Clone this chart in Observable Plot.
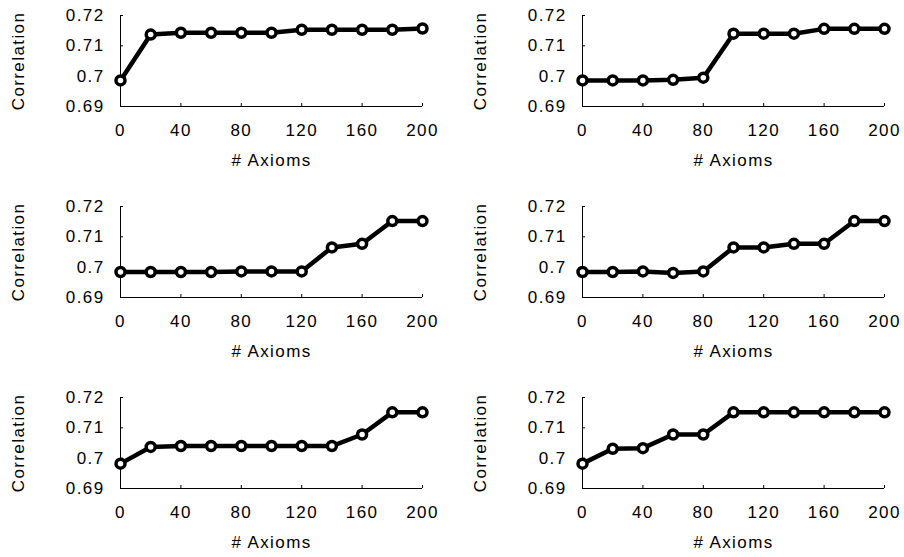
<!DOCTYPE html>
<html>
<head>
<meta charset="utf-8">
<script src="https://cdn.jsdelivr.net/npm/d3@7"></script>
<script src="https://cdn.jsdelivr.net/npm/@observablehq/plot@0.6"></script>
<style>
  html, body { margin: 0; padding: 0; background: #fff; }
  #root { position: relative; width: 904px; height: 557px; overflow: hidden; background: #fff; }
  .panel { position: absolute; }
  .panel svg { overflow: visible; }
  .panel svg text { letter-spacing: 1.4px; }
</style>
</head>
<body>
<div id="root"></div>
<script>
const axioms = [0, 20, 40, 60, 80, 100, 120, 140, 160, 180, 200];
const series1 = [0.6986, 0.7137, 0.7143, 0.7143, 0.7143, 0.7143, 0.7153, 0.7153, 0.7153, 0.7153, 0.7157];
const series2 = [0.6986, 0.6986, 0.6986, 0.6988, 0.6995, 0.7140, 0.7140, 0.7140, 0.7156, 0.7156, 0.7156];
const series3 = [0.6984, 0.6984, 0.6984, 0.6984, 0.6986, 0.6986, 0.6986, 0.7065, 0.7077, 0.7152, 0.7152];
const series4 = [0.6984, 0.6984, 0.6986, 0.6981, 0.6986, 0.7065, 0.7065, 0.7077, 0.7077, 0.7152, 0.7152];
const series5 = [0.6982, 0.7037, 0.7040, 0.7040, 0.7040, 0.7040, 0.7040, 0.7040, 0.7078, 0.7151, 0.7151];
const series6 = [0.6982, 0.7031, 0.7033, 0.7078, 0.7078, 0.7151, 0.7151, 0.7151, 0.7151, 0.7151, 0.7151];
const allSeries = [series1, series2, series3, series4, series5, series6];
const yTicks = [0.69, 0.70, 0.71, 0.72];
const xTicks = [0, 40, 80, 120, 160, 200];
const xLabel = "# Axioms";
const yLabel = "Correlation";

const font = "'Liberation Sans', Arial, sans-serif";
const fmtY = d => String(+d.toFixed(2));

function panel(values, isLeft) {
  const data = axioms.map((x, i) => ({x, y: values[i]}));
  return Plot.plot({
    width: 452,
    height: 175,
    marginLeft: isLeft ? 120 : 130,
    marginRight: isLeft ? 30 : 20,
    marginTop: 15,
    marginBottom: 69,
    style: {fontFamily: font, fontSize: "17px", color: "black", background: "white", overflow: "visible"},
    x: {domain: [0, 200]},
    y: {domain: [0.69, 0.72]},
    marks: [
      Plot.ruleX([0], {stroke: "black", strokeWidth: 1}),
      Plot.ruleY([0.69], {stroke: "black", strokeWidth: 1}),
      Plot.axisY(yTicks, {tickSize: 0, tickPadding: 16, tickFormat: fmtY, label: null, fontSize: 17, fill: "black"}),
      Plot.axisY(yTicks, {tickSize: 3, dx: 3, fill: "none", label: null, stroke: "black"}),
      Plot.axisX(xTicks, {tickSize: 0, tickPadding: 17, label: null, fontSize: 17, fill: "black"}),
      Plot.axisX(xTicks, {tickSize: 3, dy: -3, fill: "none", label: null, stroke: "black"}),
      Plot.line(data, {x: "x", y: "y", stroke: "black", strokeWidth: 4.5}),
      Plot.dot(data, {x: "x", y: "y", r: 4.5, fill: "white", stroke: "black", strokeWidth: 3.5}),
      Plot.text([xLabel], {frameAnchor: "bottom", lineAnchor: "middle", dy: 54, fontSize: 17, fill: "black"}),
      Plot.text([yLabel], {frameAnchor: "left", textAnchor: "middle", lineAnchor: "middle", dx: -102, rotate: -90, fontSize: 17, fill: "black"})
    ]
  });
}

const root = document.getElementById("root");
const rowTops = [0, 191, 382];
allSeries.forEach((s, i) => {
  const row = Math.floor(i / 2);
  const isLeft = i % 2 === 0;
  const div = document.createElement("div");
  div.className = "panel";
  div.style.left = (isLeft ? 0 : 452) + "px";
  div.style.top = rowTops[row] + "px";
  div.appendChild(panel(s, isLeft));
  root.appendChild(div);
});
</script>
</body>
</html>
